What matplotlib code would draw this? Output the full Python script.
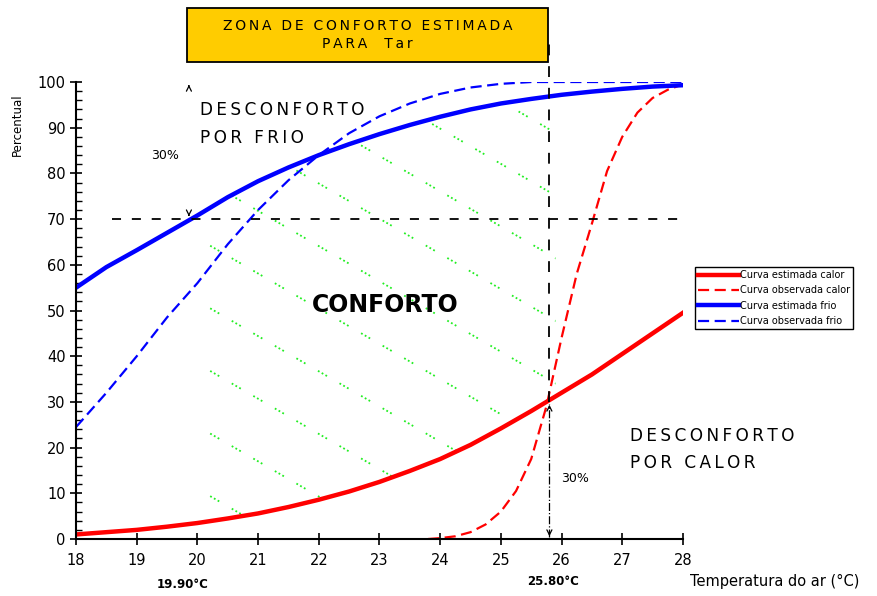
import numpy as np
import matplotlib.pyplot as plt
from matplotlib.patches import Rectangle, Polygon

plt.rcParams['font.family'] = ['DejaVu Sans']

# curvas estimadas
temp = [18, 18.5, 19, 19.5, 20, 20.5, 21, 21.5, 22, 22.5, 23, 23.5, 24,
        24.5, 25, 25.5, 26, 26.5, 27, 27.5, 28]
est_frio = [55, 59.5, 63.2, 67, 70.8, 74.8, 78.3, 81.3, 84, 86.4, 88.6, 90.6, 92.4,
            94, 95.3, 96.3, 97.2, 97.9, 98.5, 99, 99.3]
obs_frio = [24.5, 32, 40, 48.5, 56, 64.5, 72, 78.5, 84, 88.8, 92.5, 95.3, 97.4,
            98.8, 99.6, 100, 100, 100, 100, 100, 100]
est_calor = [1, 1.5, 2, 2.7, 3.5, 4.5, 5.6, 7, 8.6, 10.4, 12.5, 14.9, 17.5,
             20.6, 24.2, 28.0, 32, 36, 40.5, 45, 49.5]

# curva observada calor
temp_obs_calor = [23.8, 24, 24.25, 24.5, 24.75, 25, 25.25, 25.5, 25.75, 26, 26.25,
                  26.5, 26.75, 27, 27.25, 27.5, 27.75, 28]
obs_calor = [0, 0.2, 0.6, 1.5, 3.2, 6, 10.5, 17.5, 29, 44, 58,
             69, 80.5, 88, 93.3, 96.5, 98.3, 99.5]

t_frio, t_calor = 19.9, 25.8


def espaco(s, sep='\u2009'):
    # espacamento largo entre letras, como no original
    return '\n'.join(sep.join(linha) for linha in s.split('\n'))


fig = plt.figure(figsize=(8.77, 5.96), dpi=100)
ax = fig.add_axes([0.0867, 0.0956, 0.692, 0.7668])

# hachura verde da zona de conforto
xs = np.linspace(20.05, 25.9, 80)
verts = np.column_stack([np.r_[xs, xs[::-1]],
                         np.r_[np.interp(xs, temp, est_calor), np.interp(xs, temp, est_frio)[::-1]]])
zona = Polygon(verts, closed=True, facecolor='none', edgecolor='none', transform=ax.transData)
ax.add_patch(zona)
xh = np.array([19.5, 27])
for c in np.arange(11, 160, 13.7):
    ln, = ax.plot(xh, c - 7.7 * (xh - 20), color='#22ee22', lw=1.3,
                  linestyle=(0, (1, 1.4, 1, 1.4, 1, 8)))
    ln.set_clip_path(zona)

ax.plot(temp, est_calor, color='#ff0000', lw=3.2, label='Curva estimada calor')
ax.plot(temp_obs_calor, obs_calor, color='#ff0000', lw=1.6, linestyle=(0, (5, 2.5)),
        label='Curva observada calor')
ax.plot(temp, est_frio, color='#0000ff', lw=3.2, label='Curva estimada frio')
ax.plot(temp, obs_frio, color='#0000ff', lw=1.6, linestyle=(0, (5, 2.5)),
        label='Curva observada frio')

# linhas de referencia
ax.plot([18.6, 28], [70, 70], color='black', lw=1.3, linestyle=(0, (5, 6)))
ax.plot([t_calor, t_calor], [30, 109], color='black', lw=1.3, linestyle=(0, (6, 6)),
        clip_on=False)
ax.plot([t_calor, t_calor], [0.5, 29.5], color='black', lw=0.9, linestyle='-.')
arr = dict(arrowstyle='->', lw=0.9, color='black', mutation_scale=9)
ax.annotate('', xy=(t_calor, 0), xytext=(t_calor, 2), arrowprops=arr)
ax.annotate('', xy=(t_calor, 30), xytext=(t_calor, 28), arrowprops=arr)
ax.annotate('', xy=(t_frio - 0.04, 100), xytext=(t_frio - 0.04, 98.5), arrowprops=arr)
ax.annotate('', xy=(t_frio - 0.04, 70), xytext=(t_frio - 0.04, 71.5), arrowprops=arr)

# textos
ax.text(20.04, 95.8, espaco('DESCONFORTO\nPOR FRIO'), fontsize=12.2, ha='left', va='top',
        linespacing=1.7)
ax.text(27.13, 24.6, espaco('DESCONFORTO\nPOR CALOR'), fontsize=12.2, ha='left', va='top',
        linespacing=1.7)
ax.text(23.1, 51.2, 'CONFORTO', fontsize=17, fontweight='bold', ha='center', va='center')
ax.text(19.47, 84, '30%', fontsize=9, ha='center', va='center')
ax.text(26.22, 13.3, '30%', fontsize=9, ha='center', va='center')
ax.text(19.76, -10, '19.90°C', fontsize=8.5, ha='center', va='center', fontweight='bold')
ax.text(25.86, -9.4, '25.80°C', fontsize=8.5, ha='center', va='center', fontweight='bold')
ax.text(28.12, -9.4, 'Temperatura do ar (°C)', fontsize=10.5, ha='left', va='center')
fig.text(0.02, 0.79, 'Percentual', rotation=90, fontsize=8.5, ha='center', va='center')

# caixa do titulo
fig.add_artist(Rectangle((0.2132, 0.896), 0.4116, 0.0906, transform=fig.transFigure,
                         facecolor='#ffcc00', edgecolor='black', lw=1.3))
fig.text(0.419, 0.941, espaco('ZONA DE CONFORTO ESTIMADA\nPARA  Tar'), fontsize=10,
         ha='center', va='center', linespacing=1.35)

ax.set_xlim(18, 28)
ax.set_ylim(0, 100)
ax.set_xticks(range(18, 29))
ax.set_yticks(range(0, 101, 10))
ax.set_yticks(range(0, 101, 2), minor=True)
ax.tick_params(axis='both', which='major', direction='inout', length=8, width=1.2,
               labelsize=10.5)
ax.tick_params(axis='y', which='minor', direction='in', length=4, width=1)
ax.tick_params(axis='x', pad=6)
for s in ['top', 'right']:
    ax.spines[s].set_visible(False)
for s in ['left', 'bottom']:
    ax.spines[s].set_linewidth(1.5)

leg = ax.legend(loc='upper left', bbox_to_anchor=(1.02, 0.595), fontsize=7,
                handlelength=4.2, handletextpad=0.1, labelspacing=0.55,
                borderpad=0.3, borderaxespad=0, fancybox=False, framealpha=1)
leg.get_frame().set_edgecolor('black')
leg.get_frame().set_linewidth(1)

fig.savefig('out.png', dpi=100)
